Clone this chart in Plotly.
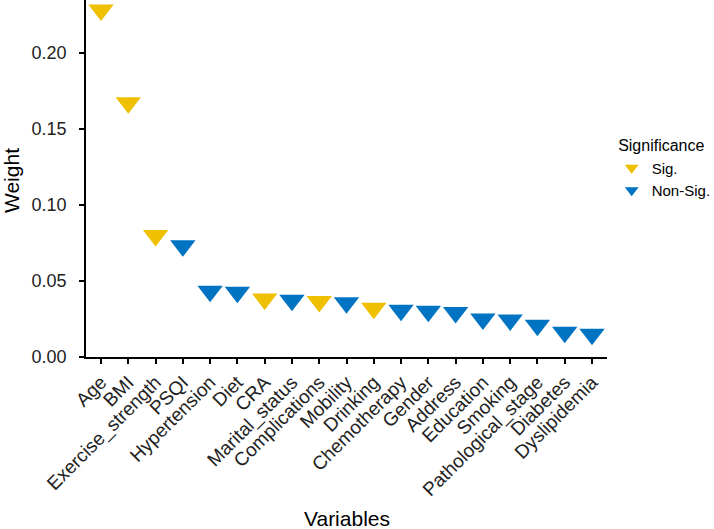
import plotly.graph_objects as go

variables = ["Age", "BMI", "Exercise_strength", "PSQI", "Hypertension", "Diet", "CRA",
             "Marital_status", "Complications", "Mobility", "Drinking", "Chemotherapy",
             "Gender", "Address", "Education", "Smoking", "Pathological_stage",
             "Diabetes", "Dyslipidemia"]
weights = [0.228, 0.167, 0.0798, 0.073, 0.0432, 0.0425, 0.0381, 0.0373, 0.0364, 0.0357,
           0.032, 0.0307, 0.030, 0.0292, 0.025, 0.0243, 0.0208, 0.0162, 0.0149]
significance = ["Sig.", "Sig.", "Sig.", "Non-Sig.", "Non-Sig.", "Non-Sig.", "Sig.",
                "Non-Sig.", "Sig.", "Non-Sig.", "Sig.", "Non-Sig.", "Non-Sig.", "Non-Sig.",
                "Non-Sig.", "Non-Sig.", "Non-Sig.", "Non-Sig.", "Non-Sig."]
groups = ["Sig.", "Non-Sig."]
colors = {"Sig.": "#EFC000", "Non-Sig.": "#0073C2"}

fig = go.Figure()
for g in groups:
    xs = [v for v, s in zip(variables, significance) if s == g]
    ys = [w for w, s in zip(weights, significance) if s == g]
    fig.add_trace(go.Scatter(x=xs, y=ys, mode="markers", name=g, cliponaxis=False,
                             marker=dict(symbol="triangle-down", size=22, color=colors[g])))

fam = "Liberation Sans, Arial, sans-serif"
fig.update_layout(
    width=714, height=529,
    margin=dict(l=86, r=107, t=0, b=172, autoexpand=False),
    plot_bgcolor="white", paper_bgcolor="white",
    font=dict(family=fam, color="black"),
    showlegend=True,
    legend=dict(title=dict(text="&nbsp;Significance", font=dict(size=16)),
                font=dict(size=15), x=1.009, y=0.634, xanchor="left", yanchor="top",
                itemwidth=30, tracegroupgap=0, itemsizing="constant"),
    xaxis=dict(type="category", categoryorder="array", categoryarray=variables,
               range=[-0.55, 18.55], tickangle=-45, automargin=False,
               tickfont=dict(family=fam, size=19, color="#222"),
               showline=True, linecolor="black", linewidth=1.5, ticks="outside",
               ticklen=5, tickwidth=1.5, tickcolor="black", showgrid=False, zeroline=False),
    yaxis=dict(range=[0, 0.2345], tickvals=[0, 0.05, 0.10, 0.15, 0.20], tickformat=".2f",
               automargin=False, ticklabelstandoff=9,
               tickfont=dict(family=fam, size=18, color="#222"),
               showline=True, linecolor="black", linewidth=1.5,
               ticks="outside", ticklen=5, tickwidth=1.5, tickcolor="black",
               showgrid=False, zeroline=False),
    annotations=[
        dict(text="Variables", xref="paper", yref="paper", x=0.501, y=-0.452,
             xanchor="center", yanchor="middle", showarrow=False,
             font=dict(family=fam, size=21, color="black")),
        dict(text="Weight", xref="paper", yref="paper", x=-0.142, y=0.493,
             xanchor="center", yanchor="middle", showarrow=False, textangle=-90,
             font=dict(family=fam, size=21, color="black")),
    ],
)

fig.write_html("out.html", config={"displayModeBar": False},
               post_script="document.body.style.margin='0';")
